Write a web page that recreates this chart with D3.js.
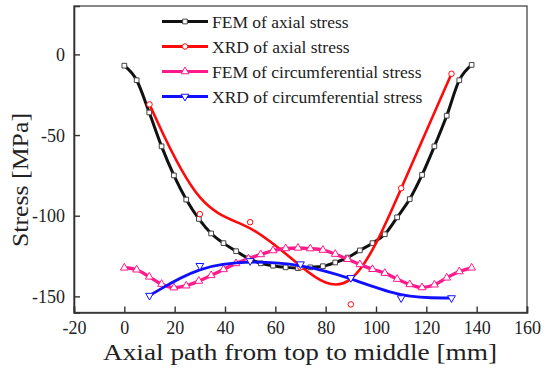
<!DOCTYPE html>
<html><head><meta charset="utf-8">
<script src="https://cdn.jsdelivr.net/npm/d3@7/dist/d3.min.js"></script>
<style>body{margin:0;background:#fff}svg{display:block}text{font-family:"Liberation Serif",serif;fill:#222}</style>
</head><body><svg id="c" width="550" height="375"></svg>
<script>
// ---- data ----
const xTicks = [-20, 0, 20, 40, 60, 80, 100, 120, 140, 160];
const yTicks = [0, -50, -100, -150];
const femX = [0,4.9,9.9,14.8,19.7,24.6,29.6,34.5,39.4,44.4,49.3,54.2,59.1,64.1,69,73.9,78.9,83.8,88.7,93.6,98.6,103.5,108.4,113.4,118.3,123.2,128.1,133.1,138];
const femAxial = [-7,-16,-36,-57,-75,-90,-102,-111,-117,-122,-126.5,-129.5,-131,-132,-132.5,-132,-131.3,-129,-126,-121.5,-117,-111.5,-101,-89.7,-74.7,-57,-38,-16,-6.5];
const femCirc = [-132.3,-133.5,-137.9,-142.4,-144.6,-143.4,-140.5,-137,-133.3,-129.6,-126.7,-124,-121.6,-120.3,-120,-120.4,-121.3,-123.8,-127,-130.2,-133.2,-135.6,-139.3,-142.6,-144.5,-142.8,-138.5,-134.6,-132.3];
const xrdX = [10, 30, 50, 70, 90, 110, 130];
const xrdAxial = [-31, -99, -104, -132, -155, -83, -12];
const xrdCirc = [-149.5, -131, -128, -130, -138.5, -151, -151];
const seriesNames = ["FEM of axial stress", "XRD of axial stress", "FEM of circumferential stress", "XRD of circumferential stress"];
const xTitle = "Axial path from top to middle [mm]";
const yTitle = "Stress [MPa]";

// ---- layout ----
const FONT = '"Liberation Serif", serif';
const svg = d3.select("#c");
const L = 74, R = 527, T = 6, B = 312.5;
const x = d3.scaleLinear().domain([-20, 160]).range([L, R]);
const y = d3.scaleLinear().domain([-160, 30]).range([B, T]);

const colors = ["#111111", "#ff0a0a", "#ff1a8c", "#1010ff"];
const strokeW = [3, 2.6, 3.4, 2.8];

// frame
svg.append("rect").attr("x", L).attr("y", T).attr("width", R - L).attr("height", B - T)
  .attr("fill", "none").attr("stroke", "#555").attr("stroke-width", 1.4);

// axes
const fmt = d => String(d);
const xAxis = d3.axisBottom(x).tickValues(xTicks).tickSize(-6).tickPadding(9).tickFormat(fmt);
const gx = svg.append("g").attr("transform", `translate(0,${B})`).call(xAxis);
const yAxis = d3.axisLeft(y).tickValues(yTicks).tickSize(-6).tickPadding(9).tickFormat(fmt);
const gy = svg.append("g").attr("transform", `translate(${L},0)`).call(yAxis);
[gx, gy].forEach(g => {
  g.attr("font-family", null).attr("font-size", null);
  g.select(".domain").attr("stroke", "#333").attr("stroke-width", 1.6);
  g.selectAll(".tick line").attr("stroke", "#333").attr("stroke-width", 1.4);
  g.selectAll(".tick text").style("font-family", FONT).style("font-size", "18px").style("fill", "#222");
});
gy.selectAll(".tick text").attr("dy", "0.34em");
gx.selectAll(".tick text").attr("dy", "0.72em");

// titles
svg.append("text").attr("x", 300).attr("y", 360).attr("text-anchor", "middle")
  .style("font-family", FONT).style("font-size", "24px")
  .attr("textLength", 394).attr("lengthAdjust", "spacingAndGlyphs").text(xTitle);
svg.append("text").attr("transform", `translate(28,180) rotate(-90)`).attr("text-anchor", "middle")
  .style("font-family", FONT).style("font-size", "23px")
  .attr("textLength", 134).attr("lengthAdjust", "spacingAndGlyphs").text(yTitle);

// lines
const plotG = svg.append("g");
function drawLine(xs, ys, color, w, curve) {
  const pts = xs.map((v, i) => [v, ys[i]]);
  plotG.append("path").datum(pts)
    .attr("d", d3.line().x(d => x(d[0])).y(d => y(d[1])).curve(curve))
    .attr("fill", "none").attr("stroke", color).attr("stroke-width", w).attr("stroke-linejoin", "round");
  return pts;
}
const sym = [d3.symbolSquare, d3.symbolCircle, d3.symbolTriangle, d3.symbolTriangle];
const symSize = [22, 24, 26, 26];
function drawMarkers(pts, k) {
  plotG.selectAll(null).data(pts).enter().append("path")
    .attr("transform", d => `translate(${x(d[0])},${y(d[1])})` + (k === 3 ? " rotate(180)" : ""))
    .attr("d", d3.symbol().type(sym[k]).size(symSize[k]))
    .attr("fill", "#fff").attr("stroke", k === 0 ? "#444" : colors[k]).attr("stroke-width", 1);
}
const p0 = drawLine(femX, femAxial, colors[0], strokeW[0], d3.curveMonotoneX);
drawMarkers(p0, 0);
const p1 = drawLine(xrdX, xrdAxial, colors[1], strokeW[1], d3.curveBasis);
drawMarkers(p1, 1);
const p2 = drawLine(femX, femCirc, colors[2], strokeW[2], d3.curveMonotoneX);
drawMarkers(p2, 2);
const p3 = drawLine(xrdX, xrdCirc, colors[3], strokeW[3], d3.curveBasis);
drawMarkers(p3, 3);

// legend
const lg = svg.append("g");
seriesNames.forEach((name, k) => {
  const yy = 21.5 + k * 25;
  lg.append("line").attr("x1", 162).attr("x2", 208).attr("y1", yy).attr("y2", yy)
    .attr("stroke", colors[k]).attr("stroke-width", 3);
  lg.append("path").attr("transform", `translate(185,${yy})` + (k === 3 ? " rotate(180)" : ""))
    .attr("d", d3.symbol().type(sym[k]).size(symSize[k]))
    .attr("fill", "#fff").attr("stroke", k === 0 ? "#444" : colors[k]).attr("stroke-width", 1);
  lg.append("text").attr("x", 212).attr("y", yy).attr("dy", "0.35em")
    .style("font-family", FONT).style("font-size", "17.5px").text(name);
});
</script></body></html>
